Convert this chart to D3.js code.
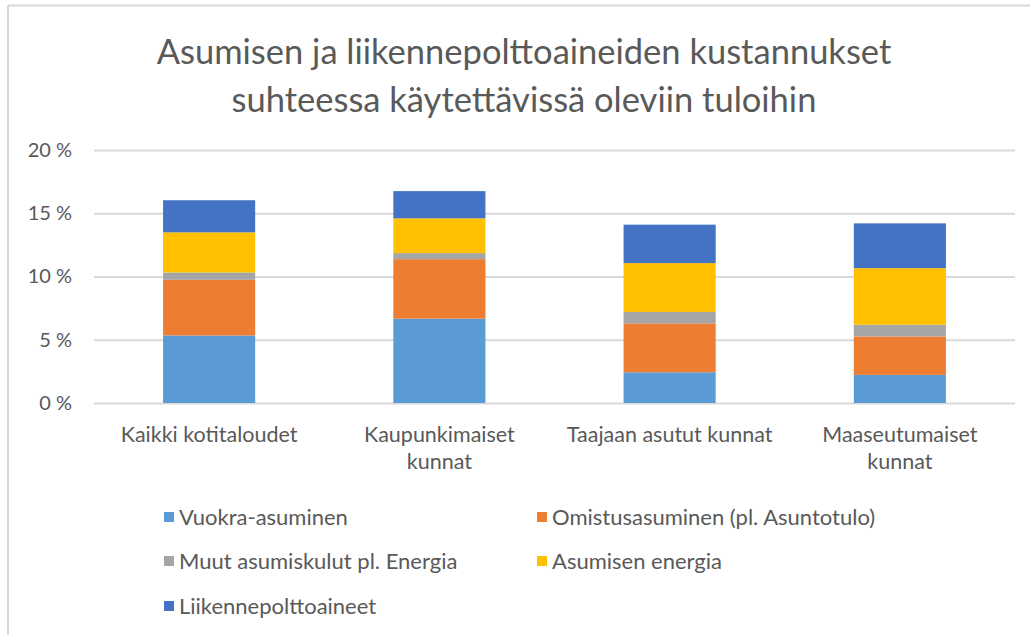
<!DOCTYPE html>
<html>
<head>
<meta charset="utf-8">
<script src="https://cdn.jsdelivr.net/npm/d3@7"></script>
<style>
  body { margin: 0; background: #fff; }
  svg { font-family: Lato, "Open Sans", sans-serif; }
</style>
</head>
<body>
<div id="chart"></div>
<script>
// chart data
let categories = ["Kaikki kotitaloudet", "Kaupunkimaiset\nkunnat", "Taajaan asutut kunnat", "Maaseutumaiset\nkunnat"];
let seriesNames = ["Vuokra-asuminen", "Omistusasuminen (pl. Asuntotulo)", "Muut asumiskulut pl. Energia", "Asumisen energia", "Liikennepolttoaineet"];
let vuokra = [5.34, 6.67, 2.43, 2.22];
let omistus = [4.40, 4.70, 3.86, 3.04];
let muut = [0.58, 0.48, 0.91, 0.93];
let energia = [3.17, 2.75, 3.86, 4.47];
let polttoaineet = [2.54, 2.15, 3.04, 3.54];
let yTicks = [0, 5, 10, 15, 20];
let colors = ["#5B9BD5", "#ED7D31", "#A5A5A5", "#FFC000", "#4472C4"];
let titleLines = ["Asumisen ja liikennepolttoaineiden kustannukset", "suhteessa käytettävissä oleviin tuloihin"];

let width = 1030, height = 635;
let margin = {top: 150, right: 15, bottom: 232, left: 94};

let svg = d3.select("#chart")
    .append("svg")
    .attr("width", width)
    .attr("height", height);

// frame (only top and left edges show in the picture)
svg.append("line").attr("x1", 8).attr("x2", width).attr("y1", 5.5).attr("y2", 5.5)
    .attr("stroke", "#d9d9d9").attr("stroke-width", 2);
svg.append("line").attr("x1", 8).attr("x2", 8).attr("y1", 5.5).attr("y2", height)
    .attr("stroke", "#d9d9d9").attr("stroke-width", 2);

// title
svg.append("g").selectAll("text")
    .data(titleLines)
    .join("text")
    .attr("x", 524)
    .attr("y", (d, i) => 64 + i * 48)
    .attr("text-anchor", "middle")
    .attr("fill", "#595959")
    .style("font-size", "34.5px")
    .text(d => d);

let plotW = width - margin.left - margin.right;
let plotH = height - margin.top - margin.bottom;

let g = svg.append("g")
    .attr("transform", `translate(${margin.left},${margin.top})`);

let x = d3.scaleBand()
    .domain(categories)
    .range([0, plotW])
    .paddingInner(0.6)
    .paddingOuter(0.3);

let y = d3.scaleLinear()
    .domain([0, 20])
    .range([plotH, 0]);

// gridlines
g.append("g")
    .call(d3.axisLeft(y).tickValues(yTicks).tickSize(-plotW).tickFormat(""))
    .call(a => a.select(".domain").remove())
    .call(a => a.selectAll("line").attr("stroke", "#d9d9d9").attr("stroke-width", 2));

// y labels
g.append("g")
    .call(d3.axisLeft(y).tickValues(yTicks).tickSize(0).tickPadding(22).tickFormat(d => d + " %"))
    .call(a => a.select(".domain").remove())
    .call(a => a.selectAll("text").attr("fill", "#595959").style("font-size", "20px").style("font-family", "Lato, sans-serif"));

// stacked bars
let table = categories.map((c, i) => ({
    cat: c,
    s0: vuokra[i], s1: omistus[i], s2: muut[i], s3: energia[i], s4: polttoaineet[i]
}));
let stack = d3.stack().keys(["s0", "s1", "s2", "s3", "s4"])(table);

g.append("g").selectAll("g")
    .data(stack)
    .join("g")
    .attr("fill", (d, i) => colors[i])
    .selectAll("rect")
    .data(d => d)
    .join("rect")
    .attr("x", d => x(d.data.cat))
    .attr("width", x.bandwidth())
    .attr("y", d => y(d[1]))
    .attr("height", d => y(d[0]) - y(d[1]));

// x labels
let xAxis = g.append("g")
    .attr("transform", `translate(0,${plotH})`)
    .call(d3.axisBottom(x).tickSize(0).tickFormat(""));
xAxis.select(".domain").remove();
xAxis.selectAll(".tick").each(function(d) {
    let t = d3.select(this).append("text")
        .attr("fill", "#595959")
        .attr("text-anchor", "middle")
        .style("font-size", "21.5px")
        .style("font-family", "Lato, sans-serif");
    d.split("\n").forEach((line, k) => {
        t.append("tspan").attr("x", 0).attr("y", 39 + k * 27).text(line);
    });
});

// legend
let legendX = [164, 537], legendY = [517, 561, 606];
let legend = svg.append("g").selectAll("g")
    .data(seriesNames)
    .join("g")
    .attr("transform", (d, i) => `translate(${legendX[i % 2]},${legendY[Math.floor(i / 2)]})`);
legend.append("rect")
    .attr("x", 0).attr("y", -5)
    .attr("width", 10).attr("height", 10)
    .attr("fill", (d, i) => colors[i]);
legend.append("text")
    .attr("x", 15).attr("y", 7.5)
    .attr("fill", "#595959")
    .style("font-size", "22px")
    .text(d => d);
</script>
</body>
</html>
